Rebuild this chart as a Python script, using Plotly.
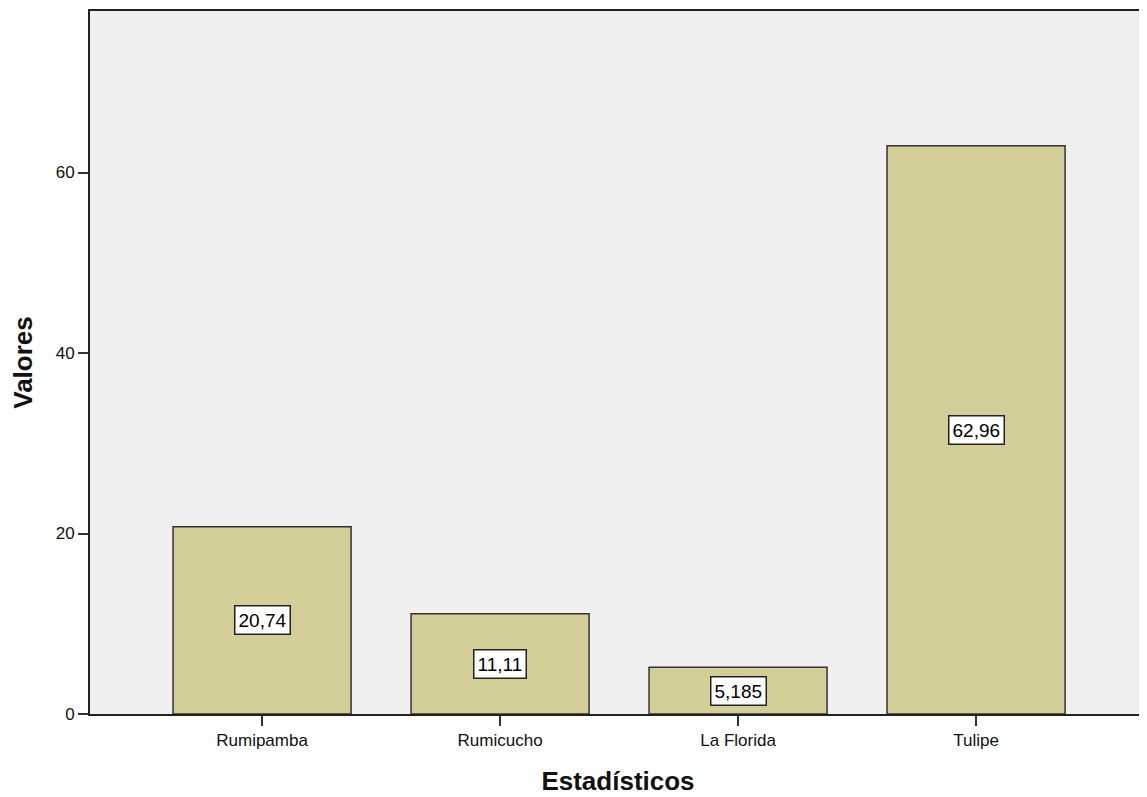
import plotly.graph_objects as go

categories = ["Rumipamba", "Rumicucho", "La Florida", "Tulipe"]
values = [20.74, 11.11, 5.185, 62.96]
y_ticks = [0, 20, 40, 60]

fig = go.Figure()
fig.add_trace(go.Bar(
    x=list(range(len(categories))), y=values,
    width=0.748,
    marker=dict(color="#D3CE97", line=dict(color="#333333", width=1.5)),
    hoverinfo="skip",
))

for i, v in enumerate(values):
    fig.add_annotation(
        x=i, y=v / 2, xref="x", yref="y",
        text=str(v).replace(".", ","),
        showarrow=False,
        font=dict(family="Arial, Liberation Sans", size=19, color="black"),
        bgcolor="white", bordercolor="#222222", borderwidth=1.5, borderpad=3,
    )

fig.add_shape(type="line", xref="paper", yref="paper", x0=1, x1=1, y0=0, y1=1,
              line=dict(color="#BBBBBB", width=1))

fig.update_layout(
    width=1139, height=789,
    margin=dict(l=82, r=1, t=1, b=83),
    paper_bgcolor="white", plot_bgcolor="#F0F0F0",
    showlegend=False,
    font=dict(family="Arial, Liberation Sans", color="black"),
    xaxis=dict(
        range=[-0.723, 3.714],
        tickmode="array", tickvals=list(range(len(categories))), ticktext=categories,
        ticks="outside", ticklen=10, tickwidth=2, tickcolor="#333333",
        showline=True, linecolor="#222222", linewidth=2, mirror=True,
        showgrid=False, zeroline=False,
        tickfont=dict(size=17, color="#111111"),
        title=dict(text="<b>Estadísticos</b>", font=dict(size=26, color="#111111"), standoff=22),
    ),
    yaxis=dict(
        range=[0, 77.9],
        tickmode="array", tickvals=y_ticks, ticktext=[str(t) for t in y_ticks],
        ticks="outside", ticklen=10, tickwidth=2, tickcolor="#333333",
        showline=True, linecolor="#222222", linewidth=2,
        showgrid=False, zeroline=False,
        tickfont=dict(size=17, color="#111111"),
        title=dict(text="<b>Valores</b>", font=dict(size=26, color="#111111"), standoff=24),
    ),
)

fig.write_html("out.html")
